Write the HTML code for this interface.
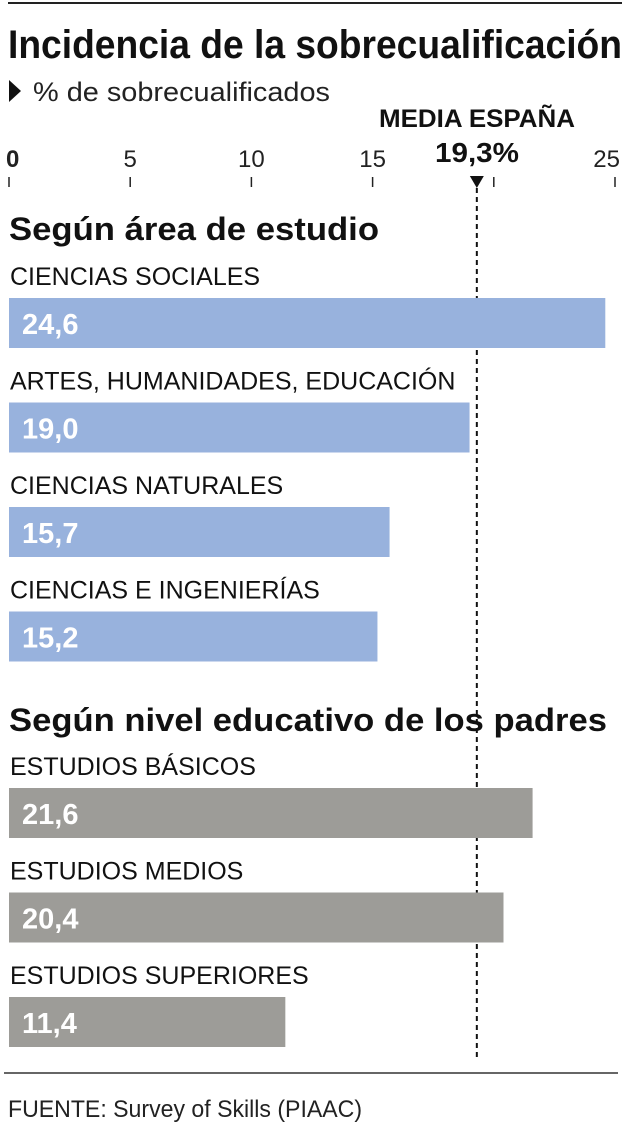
<!DOCTYPE html>
<html><head><meta charset="utf-8"><style>
html,body{margin:0;padding:0;background:#fff;}
svg{display:block;font-family:"Liberation Sans",sans-serif;}
</style></head><body>
<svg id="chart" width="630" height="1124" viewBox="0 0 630 1124">
<line x1="8" y1="3" x2="622" y2="3" stroke="#222" stroke-width="2"/>
<text x="8" y="58" font-size="40" font-weight="bold" fill="#111" textLength="614" lengthAdjust="spacingAndGlyphs">Incidencia de la sobrecualificación</text>
<polygon points="9,80 9,102 21,91" fill="#111"/>
<text x="33" y="101" font-size="27" fill="#222" textLength="297" lengthAdjust="spacingAndGlyphs">% de sobrecualificados</text>
<text x="477" y="127" font-size="25" font-weight="bold" fill="#111" text-anchor="middle" textLength="196" lengthAdjust="spacingAndGlyphs">MEDIA ESPAÑA</text>
<text x="477" y="162" font-size="28" font-weight="bold" fill="#111" text-anchor="middle" textLength="84" lengthAdjust="spacingAndGlyphs">19,3%</text>
<g id="axis"></g>
<g id="bars"></g>
<line x1="4" y1="1073" x2="618" y2="1073" stroke="#333" stroke-width="1.5"/>
<text x="8" y="1117" font-size="24" fill="#222" textLength="354" lengthAdjust="spacingAndGlyphs">FUENTE: Survey of Skills (PIAAC)</text>
</svg>
<script>
const ticks = [0, 5, 10, 15, 20, 25];
const tickLabels = ["0", "5", "10", "15", "", "25"];
const average = 19.3;
const groups = ["Según área de estudio", "Según nivel educativo de los padres"];
const categories1 = ["CIENCIAS SOCIALES", "ARTES, HUMANIDADES, EDUCACIÓN", "CIENCIAS NATURALES", "CIENCIAS E INGENIERÍAS"];
const values1 = [24.6, 19.0, 15.7, 15.2];
const categories2 = ["ESTUDIOS BÁSICOS", "ESTUDIOS MEDIOS", "ESTUDIOS SUPERIORES"];
const values2 = [21.6, 20.4, 11.4];

const NS = "http://www.w3.org/2000/svg";
const x0 = 9, x1 = 615, vmax = 25;
const xs = v => x0 + (x1 - x0) * v / vmax;
function mk(tag, attrs, parent, txt) {
  const e = document.createElementNS(NS, tag);
  for (const k in attrs) e.setAttribute(k, attrs[k]);
  if (txt !== undefined) e.textContent = txt;
  parent.appendChild(e);
  return e;
}
const axis = document.getElementById('axis');
ticks.forEach((t, i) => {
  const tl = mk('line', {x1: xs(t), x2: xs(t), y1: 177, y2: 187, stroke: '#222', 'stroke-width': 1.5}, axis);
  
  
  if (tickLabels[i]) {
    const anchor = i === 0 ? 'start' : (i === ticks.length - 1 ? 'end' : 'middle');
    const tx = i === 0 ? x0 - 3 : (i === ticks.length - 1 ? xs(t) + 5 : xs(t));
    const lb = mk('text', {x: tx, y: 167, 'font-size': 24, fill: '#222', 'text-anchor': anchor, 'font-weight': i === 0 ? 'bold' : 'normal'}, axis, tickLabels[i]);
    
    
  }
});
const ax = xs(average);
const dl = mk('line', {x1: ax, x2: ax, y1: 188, y2: 1060, stroke: '#111', 'stroke-width': 2, 'stroke-dasharray': '5,4'}, axis);


const ar = mk('polygon', {points: `${ax-7},176 ${ax+7},176 ${ax},188`, fill: '#111'}, axis);



const bars = document.getElementById('bars');
function section(title, titleY, titleW, cats, vals, startY, color) {
  const h = mk('text', {x: 9, y: titleY, 'font-size': 32, 'font-weight': 'bold', fill: '#111', textLength: titleW, lengthAdjust: 'spacingAndGlyphs'}, bars, title);
  
  
  cats.forEach((c, i) => {
    const by = startY + i * 104.5;
    const cl = mk('text', {x: 10, y: by - 13, 'font-size': 25, fill: '#111'}, bars, c);
    
    
    const r = mk('rect', {x: x0, y: by, width: xs(vals[i]) - x0, height: 50, fill: color}, bars);
    
    
    const vl = mk('text', {x: 22, y: by + 36, 'font-size': 29, 'font-weight': 'bold', fill: '#fff'}, bars, vals[i].toFixed(1).replace('.', ','));
    
    
  });
}
section(groups[0], 240, 370, categories1, values1, 298, '#98b2dd');
section(groups[1], 731, 598, categories2, values2, 788, '#9d9c98');
</script>
</body></html>
